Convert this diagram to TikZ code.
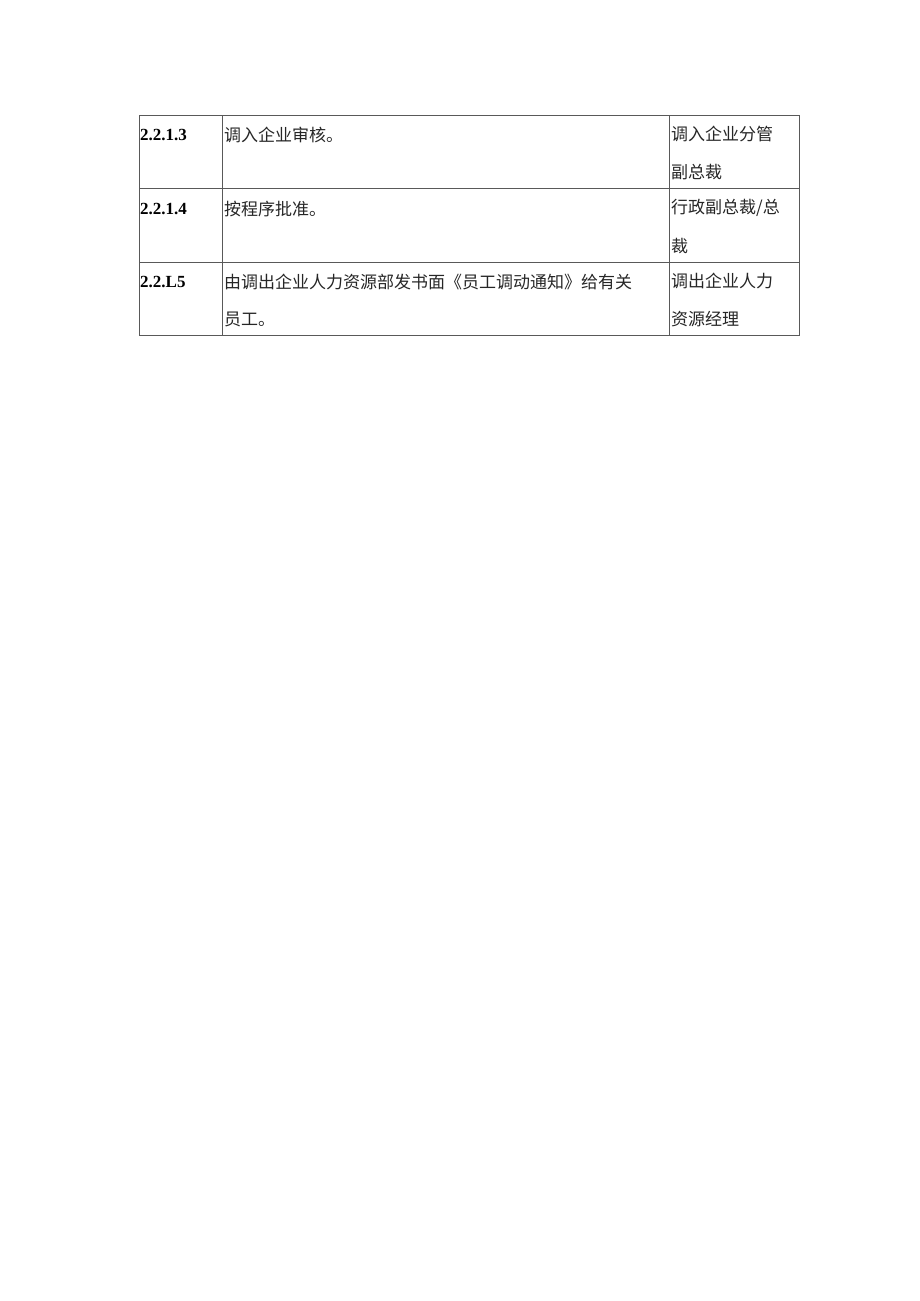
\documentclass[tikz,border=0pt]{standalone}
\usepackage{fontspec}
\setmainfont{Liberation Serif}
\newfontfamily\cjk{Noto Sans CJK SC}
\begin{document}
\begin{tikzpicture}[x=1pt,y=-1pt,
  grid/.style={draw=black!65,line width=0.9pt},
  num/.style={anchor=west,inner sep=0pt,font=\fontsize{17}{17}\selectfont\bfseries},
  txt/.style={anchor=west,inner sep=0pt,font=\fontsize{17}{17}\selectfont\cjk,text=black!85}]
\useasboundingbox (0,0) rectangle (920,1301);
% table frame
\coordinate (tl) at (139,115);
\coordinate (br) at (799,335);
\draw[grid] (tl) rectangle (br);
\draw[grid] (222,115) -- (222,335);
\draw[grid] (669,115) -- (669,335);
\draw[grid] (139,188.5) -- (799,188.5);
\draw[grid] (139,262) -- (799,262);
% row 1
\node[num] (n1) at (140,135) {2.2.1.3};
\node[txt] (a1) at (224,135) {调入企业审核。};
\node[txt] (b1) at (671,134) {调入企业分管};
\node[txt] (b1b) at (671,172) {副总裁};
% row 2
\node[num] (n2) at (140,209) {2.2.1.4};
\node[txt] (a2) at (224,209) {按程序批准。};
\node[txt] (b2) at (671,208) {行政副总裁/总};
\node[txt] (b2b) at (671,246) {裁};
% row 3
\node[num] (n3) at (140,282) {2.2.L5};
\node[txt] (a3) at (224,282) {由调出企业人力资源部发书面《员工调动通知》给有关};
\node[txt] (a3b) at (224,319) {员工。};
\node[txt] (b3) at (671,281) {调出企业人力};
\node[txt] (b3b) at (671,319) {资源经理};
\end{tikzpicture}
\end{document}
